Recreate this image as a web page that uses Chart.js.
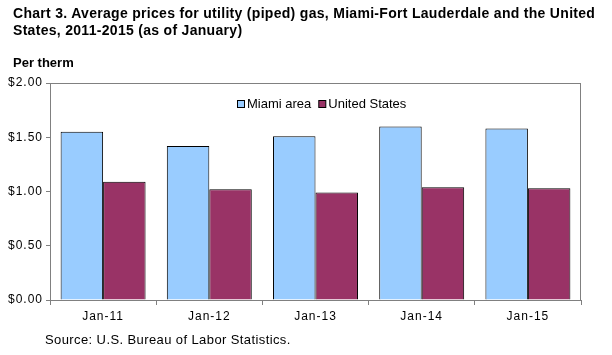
<!DOCTYPE html>
<html>
<head>
<meta charset="utf-8">
<script src="https://cdn.jsdelivr.net/npm/chart.js@4/dist/chart.umd.min.js"></script>
<style>
  html, body { margin: 0; padding: 0; background: #fff; }
  #wrap { position: relative; width: 612px; height: 355px; overflow: hidden; font-family: "Liberation Sans", Arial, sans-serif; }
  canvas { position: absolute; left: 0; top: 0; }
  .txt { position: absolute; white-space: nowrap; color: #000; }
  #title { left: 13px; top: 5px; font-weight: bold; font-size: 14px; line-height: 17px; letter-spacing: 0.3px; }
  #unit { left: 13px; top: 55px; font-weight: bold; font-size: 13px; }
  #source { left: 45px; top: 332px; font-size: 13px; letter-spacing: 0.4px; }
</style>
</head>
<body>
<div id="wrap">
  <canvas id="c" width="612" height="355"></canvas>
  <div class="txt" id="title">Chart 3. Average prices for utility (piped) gas, Miami-Fort Lauderdale and the United<br>States, 2011-2015 (as of January)</div>
  <div class="txt" id="unit">Per therm</div>
  <div class="txt" id="source">Source: U.S. Bureau of Labor Statistics.</div>
</div>
<script>
const categories = ["Jan-11", "Jan-12", "Jan-13", "Jan-14", "Jan-15"];
const miamiArea = [1.55, 1.42, 1.51, 1.60, 1.58];
const unitedStates = [1.09, 1.02, 0.99, 1.04, 1.03];
const seriesNames = ["Miami area", "United States"];
const yTicks = [0, 0.5, 1.0, 1.5, 2.0];

const FONT = '"Liberation Sans", Arial, sans-serif';

const spacingPlugin = {
  id: 'spacing',
  beforeDraw(chart) { chart.ctx.letterSpacing = '1px'; },
  beforeDatasetsDraw(chart) { chart.ctx.letterSpacing = '0px'; }
};

const framePlugin = {
  id: 'frame',
  afterDatasetsDraw(chart) {
    const { ctx, chartArea: a } = chart;
    ctx.save();
    ctx.strokeStyle = '#808080';
    ctx.lineWidth = 1;
    ctx.strokeRect(a.left + 0.5, a.top + 0.5, a.right - a.left - 1, a.bottom - a.top);
    ctx.restore();
  }
};

const legendPlugin = {
  id: 'customLegend',
  afterDraw(chart) {
    const { ctx } = chart;
    ctx.save();
    ctx.font = '13px ' + FONT;
    ctx.textBaseline = 'middle';
    ctx.letterSpacing = '0px';
    let x = 237;
    const y = 104;
    chart.data.datasets.forEach((ds) => {
      ctx.fillStyle = ds.backgroundColor;
      ctx.fillRect(x + 0.5, y - 3.5, 7, 7);
      ctx.strokeStyle = '#000';
      ctx.lineWidth = 1;
      ctx.strokeRect(x + 0.5, y - 3.5, 7, 7);
      ctx.fillStyle = '#000';
      ctx.fillText(ds.label, x + 10, y);
      x += 10 + ctx.measureText(ds.label).width + 7;
    });
    ctx.restore();
  }
};

new Chart(document.getElementById('c'), {
  type: 'bar',
  data: {
    labels: categories,
    datasets: [
      { label: seriesNames[0], data: miamiArea, backgroundColor: '#99CCFF', borderColor: '#000', borderWidth: 1, borderSkipped: 'bottom' },
      { label: seriesNames[1], data: unitedStates, backgroundColor: '#993366', borderColor: '#000', borderWidth: 1, borderSkipped: 'bottom' }
    ]
  },
  options: {
    responsive: false,
    animation: false,
    devicePixelRatio: 1,
    layout: { padding: { left: 0, right: 31, top: 83, bottom: 0 } },
    datasets: { bar: { categoryPercentage: 0.8, barPercentage: 1.0 } },
    plugins: { legend: { display: false }, title: { display: false }, tooltip: { enabled: false } },
    scales: {
      x: {
        grid: { display: true, drawOnChartArea: false, offset: true, color: '#808080', tickLength: 5 },
        border: { display: true, color: '#808080' },
        ticks: { color: '#000', font: { family: FONT, size: 12 }, padding: 4, maxRotation: 0 },
        afterFit(s) { s.height = 55; }
      },
      y: {
        min: 0, max: 2,
        afterBuildTicks(s) { s.ticks = yTicks.map(v => ({ value: v })); },
        grid: { display: true, drawOnChartArea: false, color: '#808080', tickLength: 4 },
        border: { display: true, color: '#808080' },
        ticks: { color: '#000', font: { family: FONT, size: 12 }, padding: 3,
          callback: (v) => '$' + Number(v).toFixed(2) },
        afterFit(s) { s.width = 50; }
      }
    }
  },
  plugins: [spacingPlugin, framePlugin, legendPlugin]
});
</script>
</body>
</html>
